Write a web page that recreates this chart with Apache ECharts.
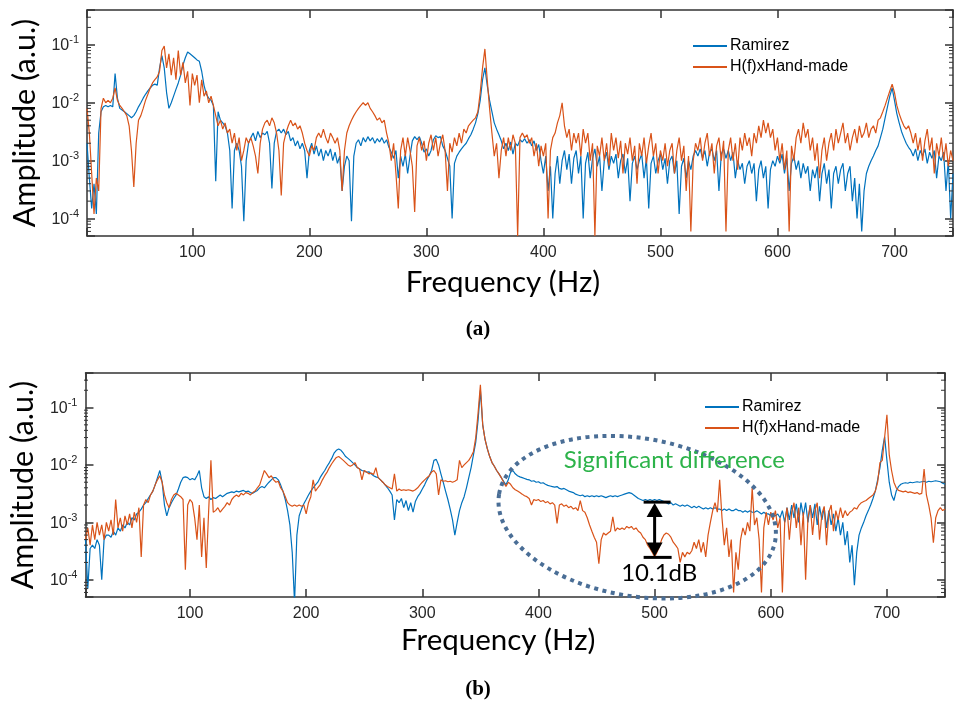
<!DOCTYPE html>
<html><head><meta charset="utf-8">
<script src="https://cdn.jsdelivr.net/npm/echarts@6/dist/echarts.min.js"></script>
<style>html,body{margin:0;padding:0;background:#fff}#c{width:957px;height:707px}</style>
</head><body><div id="c"></div>
<script>
// Sampling grid of the spectra (Hz)
const FREQ_START = 10;
const FREQ_STEP = 2;
const X_MIN = 10, X_MAX = 750;
const Y_MIN = 5e-5, Y_MAX = 0.4;

// (a) top panel
const TOP_RAMIREZ = [
2e-3,5e-4,1.5e-4,4e-4,1.2e-4,3e-3,7e-3,8.5e-3,9e-3,8.5e-3,
9e-3,8.5e-3,3.2e-2,1.2e-2,8e-3,7.5e-3,7e-3,6.5e-3,6e-3,5.5e-3,
6e-3,7e-3,8.5e-3,1e-2,1.2e-2,1.4e-2,1.6e-2,1.8e-2,2e-2,2.1e-2,
2e-2,4e-2,6.5e-2,4e-2,1.5e-2,8e-3,1e-2,1.3e-2,1.7e-2,2.2e-2,
3e-2,4.5e-2,6e-2,7.5e-2,7e-2,6.5e-2,6e-2,5.5e-2,5.2e-2,3.5e-2,
2e-2,1.4e-2,1.2e-2,1.1e-2,9e-3,4.4e-4,7e-3,5e-3,4.5e-3,4e-3,
3e-3,1.5e-3,1.5e-4,1.5e-3,2e-3,1.5e-3,8e-4,9e-5,1e-3,2e-3,
2.5e-3,3e-3,2.2e-3,3.2e-3,2.5e-3,3e-3,2.8e-3,3.2e-3,2e-3,3.3e-4,
2e-3,3.2e-3,3.5e-3,3e-3,3.5e-3,2.8e-3,3.2e-3,2.2e-3,2.5e-3,1.8e-3,
2.2e-3,1.6e-3,2e-3,1.5e-3,5e-4,1.5e-3,2e-3,1.3e-3,1.8e-3,1.2e-3,
1.6e-3,1e-3,1.5e-3,1.2e-3,1.6e-3,1e-3,1.4e-3,9e-4,1.2e-3,3e-4,
8e-4,1.2e-3,1e-3,9e-5,1.2e-3,2e-3,2.3e-3,1.8e-3,2.5e-3,2.1e-3,
2.6e-3,2.2e-3,2.5e-3,2e-3,2.4e-3,2.1e-3,2.5e-3,2e-3,2.3e-3,1.7e-3,
1.4e-3,1.1e-3,1.5e-3,5e-4,1.2e-3,8e-4,1.3e-3,6e-4,1.2e-3,2.2e-3,
2.6e-3,2.3e-3,2.6e-3,2e-3,1.4e-3,1.6e-3,1.2e-3,1.5e-3,2.3e-3,2.7e-3,
2.5e-3,2.6e-3,1.8e-3,1.5e-3,1.1e-3,8e-4,1e-4,9e-4,1.2e-3,1.4e-3,
1.6e-3,1.8e-3,2e-3,2.4e-3,2.8e-3,3.5e-3,4.5e-3,6.5e-3,1.1e-2,2.5e-2,
4e-2,2e-2,1.1e-2,7e-3,4.5e-3,3.5e-3,2.8e-3,2.2e-3,1.6e-3,2e-3,
1.5e-3,2.1e-3,1.3e-3,2e-3,1.8e-3,2.3e-3,2.1e-3,2.4e-3,2e-3,2.3e-3,
1.8e-3,2.2e-3,1.5e-3,1.9e-3,1e-3,6e-4,1.2e-3,3e-4,8e-4,1e-4,
6e-4,1.2e-3,4e-4,1e-3,1.5e-3,7e-4,1.3e-3,4e-4,1.1e-3,1.5e-3,
6e-4,1.2e-3,1e-4,9e-4,1.4e-3,5e-4,1.1e-3,1.6e-3,8e-4,1.2e-3,
3e-4,1e-3,1.4e-3,7e-4,1.2e-3,9e-4,1.3e-3,5e-4,1e-3,1.3e-3,
6e-4,1.1e-3,2e-4,9e-4,1.2e-3,7e-4,1e-3,1.3e-3,5e-4,1.1e-3,
1.5e-4,9e-4,1.2e-3,6e-4,1e-3,1.3e-3,7e-4,1.1e-3,4e-4,1e-3,
1.2e-3,6e-4,1e-3,1.2e-4,8e-4,1.1e-3,5e-4,1e-3,7e-4,1.2e-3,
1.5e-3,1.2e-3,1.6e-3,1.1e-3,1.5e-3,8e-4,1.4e-3,1.6e-3,1e-3,1.5e-3,
3e-4,1.3e-3,1.6e-3,1.1e-3,1.5e-3,1e-3,1.4e-3,5e-4,1e-3,7e-4,
9e-4,4e-4,8e-4,1e-3,6e-4,9e-4,2e-4,7e-4,1e-3,5e-4,
8e-4,1.5e-4,7e-4,1e-3,8e-4,1.2e-3,9e-4,1.3e-3,6e-4,1.1e-3,
3e-4,9e-4,1.2e-3,7e-4,1e-3,5e-4,9e-4,6e-4,8e-4,3e-4,
7e-4,5e-4,8e-4,2e-4,6e-4,9e-4,4e-4,7e-4,1.5e-4,6e-4,
8e-4,4e-4,7e-4,9e-4,3e-4,6e-4,8e-4,2e-4,5e-4,1e-4,
4e-4,6e-5,3e-4,6e-4,8e-4,1e-3,1.2e-3,1.5e-3,1.8e-3,2.5e-3,
3.5e-3,5.5e-3,8.5e-3,1.3e-2,1.8e-2,1.1e-2,6.5e-3,4.5e-3,3.2e-3,2.5e-3,
2e-3,1.7e-3,1.5e-3,1.2e-3,1.6e-3,1e-3,1.5e-3,1.2e-3,1.6e-3,9e-4,
1.4e-3,1.1e-3,1.5e-3,5e-4,1.2e-3,1e-3,1.4e-3,3e-4,1e-3,1e-4,
6e-4];

const TOP_HANDMADE = [
8e-3,3e-3,6e-4,1.2e-4,5e-4,3e-4,8e-3,1.2e-2,1e-2,1.1e-2,
1e-2,1.2e-2,1.8e-2,1.1e-2,9e-3,8e-3,7e-3,6e-3,4e-3,1.5e-3,
3.5e-4,2e-3,5e-3,6e-3,8e-3,1.1e-2,1.4e-2,1.8e-2,2.2e-2,2.5e-2,
2.8e-2,3.5e-2,8e-2,9.5e-2,4e-2,7e-2,3e-2,6e-2,2.5e-2,8e-2,
3e-2,5e-2,2.2e-2,3.5e-2,9e-3,3.2e-2,2e-2,3e-2,1e-2,2.5e-2,
1.3e-2,1.6e-2,1e-2,1.3e-2,9e-3,6e-3,4e-3,5e-3,3.5e-3,4.5e-3,
3e-3,3.5e-3,2e-3,3e-3,1.5e-3,2.5e-3,1e-3,1.5e-3,2.5e-3,2e-3,
2.5e-3,1.8e-3,1.2e-3,6e-4,2e-3,3.5e-3,4.5e-3,5e-3,4e-3,5.5e-3,
4.5e-3,3e-3,1.5e-3,2.5e-4,2e-3,3e-3,4e-3,5e-3,4e-3,4.5e-3,
3.5e-3,4e-3,3e-3,2e-3,1.5e-3,1.2e-3,1.8e-3,1.5e-3,2.5e-3,3e-3,
2.5e-3,3.5e-3,2.5e-3,2e-3,3e-3,2.5e-3,2e-3,2.5e-3,1.5e-3,3e-4,
1.5e-3,3e-3,4e-3,5e-3,6e-3,7e-3,8e-3,9e-3,1e-2,9e-3,
1e-2,8e-3,7e-3,6e-3,5e-3,5.5e-3,4.5e-3,5e-3,3e-3,2e-3,
1e-3,2e-3,6e-4,1.5e-4,1.5e-3,2.5e-3,1.2e-3,2.5e-3,1.5e-3,8e-4,
1.3e-4,1.8e-3,2.5e-3,1.5e-3,2.2e-3,1e-3,2e-3,2.8e-3,1.5e-3,2.5e-3,
1.2e-3,2e-3,2.8e-3,1.5e-3,3e-4,2e-3,1.4e-3,2.5e-3,1.8e-3,3e-3,
2e-3,3.5e-3,3e-3,4e-3,4.5e-3,5e-3,5.5e-3,7e-3,1.5e-2,4e-2,
8.5e-2,2.5e-2,8e-3,3e-3,1.2e-3,2e-3,5e-4,1.5e-3,2.5e-3,1.2e-3,
2.5e-3,1.5e-3,2.8e-3,2e-3,5e-5,2.5e-3,3e-3,2.5e-3,2.8e-3,2e-3,
2.5e-3,1.2e-3,2e-3,8e-4,1.8e-3,1.2e-3,2e-3,1e-4,1.5e-3,2.5e-3,
3e-3,4.5e-3,6e-3,1e-2,4e-3,2.5e-3,3.5e-3,1.5e-3,3e-3,2e-3,
3e-3,1.2e-3,3.5e-3,2e-3,3e-3,1e-3,2e-3,5e-5,1.8e-3,1.2e-3,
2.5e-3,1e-3,2e-3,8e-4,3e-3,1.5e-3,2.5e-3,1.1e-3,2.2e-3,6e-4,
2e-3,1.3e-3,2.5e-3,1e-3,1.8e-3,4e-4,2e-3,1.2e-3,2.5e-3,9e-4,
1.8e-3,3e-3,1.2e-3,2e-3,6e-4,1.5e-3,1e-3,2e-3,8e-4,1.5e-3,
2e-3,6e-4,1.5e-3,2.5e-3,1e-3,1.8e-3,3e-4,1.2e-3,6e-5,1e-3,
2e-3,1.5e-3,2.5e-3,1e-3,2e-3,3e-3,1.2e-3,2e-3,6e-4,1.8e-3,
2.5e-3,1e-3,2.2e-3,6e-5,1.5e-3,2.5e-3,1e-3,2e-3,7e-4,2.5e-3,
1.5e-3,3e-3,1.8e-3,2.5e-3,1.2e-3,3e-3,2e-3,4e-3,2.5e-3,5e-3,
3e-3,4.5e-3,2.5e-3,3.5e-3,1.5e-3,2.5e-3,1e-3,2e-3,7e-4,1.5e-3,
6e-5,1.8e-3,1e-3,2.5e-3,3.5e-3,2e-3,4.5e-3,2.5e-3,3.5e-3,1.5e-3,
2.5e-3,1e-3,2e-3,5e-4,1.5e-3,2.5e-3,1e-3,2e-3,3e-3,1.5e-3,
3.5e-3,2e-3,3e-3,4.5e-3,2e-3,3e-3,1.5e-3,2.5e-3,3.5e-3,2e-3,
4e-3,2.5e-3,3e-3,4.5e-3,2.5e-3,3.5e-3,4e-3,3e-3,5e-3,5.5e-3,
7e-3,9e-3,1.2e-2,1.6e-2,2.1e-2,1.5e-2,9e-3,6.5e-3,5e-3,4e-3,
3.5e-3,4e-3,3e-3,2e-3,3e-3,1.5e-3,2.5e-3,1e-3,2.2e-3,3.5e-3,
1.5e-3,2.5e-3,6e-4,2e-3,1.2e-3,2.5e-3,1e-3,2e-3,8e-4,1.5e-3,
1e-3];

// (b) bottom panel
const BOT_RAMIREZ = [
5e-4,7e-5,3.5e-4,4e-4,3.5e-4,5e-4,4e-4,1e-4,5e-4,6e-4,
6e-4,5.5e-4,7e-4,6e-4,8e-4,7e-4,9e-4,8e-4,1e-3,9e-4,
1.2e-3,1.1e-3,1.4e-3,1.5e-3,1.7e-3,2e-3,2.2e-3,2.6e-3,3e-3,3.5e-3,
4.5e-3,6e-3,8e-3,5e-3,2e-3,1.3e-3,1.8e-3,2.2e-3,2.6e-3,3e-3,
3.8e-3,5e-3,6e-3,6.2e-3,6e-3,5.5e-3,5.8e-3,5.5e-3,6.5e-3,8e-3,
4e-3,2.8e-3,2.6e-3,2.8e-3,2.5e-3,2.7e-3,2.6e-3,2.8e-3,3e-3,2.8e-3,
3e-3,3.2e-3,3.3e-3,3.4e-3,3.3e-3,3.5e-3,3.4e-3,3.5e-3,3.6e-3,3.4e-3,
3.5e-3,3.3e-3,3.2e-3,3.4e-3,3.6e-3,4e-3,4.2e-3,4e-3,4.5e-3,5e-3,
5.5e-3,6e-3,6e-3,5.5e-3,4.5e-3,3.5e-3,2.5e-3,1.6e-3,9e-4,3e-4,
4e-5,6e-4,1.3e-3,1.7e-3,2.1e-3,2.5e-3,3e-3,3.5e-3,4e-3,4.5e-3,
5e-3,6e-3,7e-3,8e-3,9.5e-3,1.1e-2,1.3e-2,1.6e-2,1.8e-2,1.9e-2,
1.8e-2,1.6e-2,1.4e-2,1.3e-2,1.2e-2,1.1e-2,1e-2,9e-3,8.5e-3,8e-3,
7.8e-3,7.5e-3,7.6e-3,7e-3,6.5e-3,6.2e-3,6e-3,5.5e-3,5e-3,4.5e-3,
4e-3,3.5e-3,3e-3,1.1e-3,2.5e-3,2.2e-3,2.6e-3,1.8e-3,2.4e-3,1.6e-3,
2.2e-3,1.5e-3,2.3e-3,2.8e-3,3.2e-3,3.8e-3,4.5e-3,5.5e-3,6.5e-3,8e-3,
1.2e-2,1.25e-2,1e-2,7e-3,5e-3,3.5e-3,2.5e-3,1.7e-3,1.1e-3,6e-4,
1e-3,1.6e-3,2.2e-3,2.8e-3,4e-3,6e-3,9e-3,1.5e-2,2.5e-2,6e-2,
2e-1,5e-2,2.8e-2,1.9e-2,1.4e-2,1.1e-2,9.5e-3,8e-3,7e-3,6e-3,
5.2e-3,4.5e-3,5.5e-3,7.5e-3,8e-3,7e-3,6.5e-3,6.2e-3,6e-3,5.8e-3,
5.6e-3,5.5e-3,5.2e-3,5.3e-3,5e-3,5.1e-3,4.8e-3,4.9e-3,4.6e-3,4.4e-3,
4.3e-3,4.2e-3,4.1e-3,4.2e-3,3.9e-3,3.8e-3,3.9e-3,3.7e-3,3.5e-3,3.4e-3,
3.3e-3,3.1e-3,3e-3,2.9e-3,3e-3,2.8e-3,2.9e-3,2.8e-3,2.9e-3,2.8e-3,
2.9e-3,2.8e-3,2.9e-3,2.8e-3,2.7e-3,2.8e-3,2.9e-3,2.8e-3,2.9e-3,2.8e-3,
2.9e-3,3e-3,3.1e-3,3.2e-3,3.3e-3,3.2e-3,3e-3,2.8e-3,2.6e-3,2.5e-3,
2.4e-3,2.5e-3,2.4e-3,2.5e-3,2.4e-3,2.5e-3,2.4e-3,2.5e-3,2.4e-3,2.3e-3,
2.2e-3,2.1e-3,2.2e-3,2e-3,2.1e-3,2e-3,1.9e-3,2e-3,1.9e-3,2e-3,
1.9e-3,1.8e-3,1.9e-3,1.8e-3,1.9e-3,1.8e-3,1.7e-3,1.8e-3,1.7e-3,1.8e-3,
1.7e-3,1.8e-3,1.7e-3,1.7e-3,1.6e-3,1.7e-3,1.6e-3,1.7e-3,1.6e-3,1.6e-3,
1.7e-3,1.6e-3,1.6e-3,1.5e-3,1.6e-3,1.5e-3,1.6e-3,1.5e-3,1.5e-3,1.6e-3,
1.5e-3,1.4e-3,1.5e-3,1.4e-3,1.4e-3,1.3e-3,1.4e-3,1.3e-3,1.4e-3,1.2e-3,
1.6e-3,1e-3,1.8e-3,1.1e-3,2e-3,1.2e-3,2.1e-3,1e-3,2.2e-3,1.3e-3,
2.2e-3,1e-3,2e-3,1.2e-3,2.1e-3,9e-4,1.9e-3,1.1e-3,1.8e-3,8e-4,
1.6e-3,9e-4,1.4e-3,7e-4,1.2e-3,6e-4,1e-3,4e-4,7e-4,2e-4,
4e-4,8e-5,3e-4,6e-4,8e-4,1e-3,1.3e-3,1.6e-3,2e-3,2.6e-3,
3.5e-3,5.5e-3,9e-3,1.8e-2,3.1e-2,1.2e-2,5e-3,3e-3,2.4e-3,3.5e-3,
4.2e-3,4.6e-3,4.8e-3,4.9e-3,4.8e-3,5e-3,4.9e-3,5e-3,5.1e-3,5e-3,
5.1e-3,5.2e-3,5e-3,5.2e-3,5.1e-3,5.2e-3,5.3e-3,5.2e-3,5.1e-3,4.8e-3,
4.6e-3];

const BOT_HANDMADE = [
5e-4,8e-4,4e-4,9e-4,5e-4,1e-3,6e-4,9e-4,5e-4,1e-3,
7e-4,1.1e-3,6e-4,2.5e-3,8e-4,1.2e-3,7e-4,1.3e-3,9e-4,1.4e-3,
8e-4,1.5e-3,1e-3,1.8e-3,2.5e-4,2e-3,2.5e-3,2.2e-3,3e-3,3.5e-3,
4.5e-3,5.5e-3,6.5e-3,5e-3,3e-3,2.2e-3,1.8e-3,2.5e-3,3e-3,3.2e-3,
3e-3,2.8e-3,2.5e-3,1.5e-4,2e-3,2.5e-3,2.2e-3,1.2e-3,5e-4,2e-3,
2.5e-4,1.2e-3,1.6e-4,1.5e-3,1.2e-2,1.5e-3,1.6e-3,1.8e-3,1.5e-3,1.7e-3,
1.9e-3,2.2e-3,2e-3,2.5e-3,2.8e-3,3e-3,2.8e-3,3.2e-3,3e-3,3.3e-3,
3.2e-3,3e-3,3.3e-3,3.5e-3,4e-3,4.5e-3,6e-3,8e-3,7e-3,6e-3,
6.5e-3,5.5e-3,5e-3,5.2e-3,4e-3,3.5e-3,2.8e-3,2.2e-3,2e-3,1.9e-3,
2e-3,1.9e-3,2e-3,1.9e-3,2e-3,1.4e-3,2.2e-3,2.8e-3,5.5e-3,3.5e-3,
4e-3,4.5e-3,5.5e-3,6.5e-3,7.5e-3,9e-3,1.05e-2,1.2e-2,1.35e-2,1.4e-2,
1.3e-2,1.2e-2,1.1e-2,1e-2,9.5e-3,1e-2,1.1e-2,9e-3,8.5e-3,5.5e-3,
8e-3,7.5e-3,7e-3,7.2e-3,6.8e-3,9e-3,6e-3,5.5e-3,5e-3,4.5e-3,
4.2e-3,4e-3,3.8e-3,7e-3,3.5e-3,3.8e-3,3.6e-3,3.7e-3,3.6e-3,3.7e-3,
3.6e-3,3.5e-3,3.7e-3,4e-3,4.5e-3,5e-3,5.5e-3,6e-3,6.5e-3,7.5e-3,
8e-3,7e-3,3e-3,5.5e-3,5.2e-3,5.3e-3,5.1e-3,5.2e-3,5e-3,5.2e-3,
5.5e-3,1.2e-2,9e-3,1e-2,1.1e-2,1.2e-2,1.4e-2,1.7e-2,3e-2,8e-2,
2.5e-1,5e-2,2.8e-2,1.9e-2,1.4e-2,1.1e-2,9.5e-3,8e-3,7e-3,6e-3,
5e-3,4.2e-3,5e-3,4.6e-3,4e-3,3.7e-3,3.5e-3,3.3e-3,3.1e-3,2.9e-3,
2.8e-3,2.6e-3,2e-3,2.5e-3,2.4e-3,2.5e-3,2.3e-3,2.4e-3,2.2e-3,2.3e-3,
2.1e-3,2.2e-3,2e-3,9.6e-4,2e-3,2.1e-3,1.9e-3,2e-3,1.8e-3,1.9e-3,
1.7e-3,1.8e-3,1.6e-3,2.4e-3,1.6e-3,1.5e-3,1.2e-3,9e-4,7e-4,5.5e-4,
4.5e-4,1.9e-4,5e-4,6.5e-4,6e-4,6.5e-4,7e-4,1.25e-3,7e-4,8e-4,
7.5e-4,8e-4,7.5e-4,8.5e-4,8e-4,8.5e-4,7.5e-4,8e-4,7e-4,6.5e-4,
5.5e-4,5e-4,4e-4,3.5e-4,3e-4,2.5e-4,3e-4,3.7e-4,5e-4,6e-4,
6.5e-4,6.2e-4,5.5e-4,4.5e-4,4e-4,3.5e-4,2e-4,3e-4,2.5e-4,3e-4,
2.8e-4,3.2e-4,4.5e-4,3.5e-4,5e-4,3e-4,4.5e-4,2.5e-4,6e-4,1e-3,
1.6e-3,2.2e-3,1.5e-3,5.5e-3,1.2e-3,4e-4,8e-4,2.5e-4,5e-4,6e-5,
3e-4,1.5e-4,5e-4,8e-4,6e-4,1e-3,7e-4,4e-3,9e-4,1.2e-3,
5e-4,6e-5,8e-4,1.5e-3,9e-4,1.5e-3,1.1e-3,1.6e-3,8e-4,1.2e-3,
6e-5,1e-3,1.8e-3,5e-4,1.5e-3,2.2e-3,8e-4,1.8e-3,4e-4,1.5e-3,
1e-4,1.2e-3,2e-3,6e-4,1.6e-3,2.2e-3,5e-4,1.4e-3,1.9e-3,4e-4,
1.5e-3,2e-3,7e-4,1.6e-3,1.1e-3,1.8e-3,1.2e-3,1.6e-3,1.3e-3,1.5e-3,
1.6e-3,1.8e-3,1.7e-3,2e-3,2.2e-3,2.3e-3,2.4e-3,2.6e-3,2.8e-3,3e-3,
3.5e-3,5e-3,1.1e-2,1.2e-2,3e-2,7.5e-2,1.5e-2,8e-3,5e-3,4e-3,
3.6e-3,3.5e-3,3.4e-3,3.5e-3,3.3e-3,3.4e-3,3.3e-3,3.2e-3,3.3e-3,3.1e-3,
3.2e-3,8.5e-3,3e-3,2e-3,1.2e-3,4.4e-4,1.2e-3,1.6e-3,1.8e-3,1.6e-3,
1.7e-3];

const SERIES_NAMES = ['Ramirez', 'H(f)xHand-made'];
const PANEL_LABELS = ['(a)', '(b)'];
const ANNOT_TEXT = 'Significant difference';
const ANNOT_DB = '10.1dB';

const BLUE = '#0072BD', ORANGE = '#D95319', AX = '#333333', TICKC = '#262626';
const F_TICK = '"Liberation Sans", Arial, sans-serif';
const F_TITLE = 'Lato, "Open Sans", sans-serif';

function pairs(arr) { return arr.map((v, i) => [FREQ_START + i * FREQ_STEP, v]); }
function logLabel(v) {
  const e = Math.log10(v), r = Math.round(e);
  if (Math.abs(e - r) > 1e-6) return '';
  return '{b|10}{s|' + r + '}';
}

const GRIDS = [
  { left: 87, top: 10, width: 866, height: 226 },
  { left: 84, top: 373, width: 861, height: 224 }
];

function xAx(g, pos, main, gap) {
  return {
    type: 'value', gridIndex: g, position: pos, min: X_MIN, max: X_MAX,
    minInterval: 100, maxInterval: 100,
    axisLine: { show: true, onZero: false, lineStyle: { color: AX, width: 1.5 } },
    axisTick: { show: true, inside: true, length: 8, lineStyle: { color: AX, width: 1.5 } },
    axisLabel: { show: main, margin: 9, fontSize: 16, fontFamily: F_TICK, color: TICKC,
      formatter: v => (v % 100 === 0 ? String(v) : '') },
    splitLine: { show: false },
    name: main ? 'Frequency (Hz)' : '', nameLocation: 'middle', nameGap: gap,
    nameTextStyle: { fontFamily: F_TITLE, fontSize: 29.5, color: '#000', padding: [0, 34, 0, 0] }
  };
}
function yAx(g, pos, main) {
  return {
    type: 'log', logBase: 10, gridIndex: g, position: pos, min: Y_MIN, max: Y_MAX,
    axisLine: { show: true, onZero: false, lineStyle: { color: AX, width: 1.5 } },
    axisTick: { show: true, inside: true, length: 8, lineStyle: { color: AX, width: 1.5 } },
    axisLabel: { show: main, margin: 8, formatter: logLabel,
      rich: {
        b: { fontSize: 16, fontFamily: F_TICK, color: TICKC, verticalAlign: 'bottom', lineHeight: 18 },
        s: { fontSize: 11, fontFamily: F_TICK, color: TICKC, verticalAlign: 'bottom', lineHeight: 12, padding: [0, 0, 8, 0] }
      } },
    splitLine: { show: false },
    name: main ? 'Amplitude (a.u.)' : '', nameLocation: 'middle', nameGap: 44, nameRotate: 90,
    nameTextStyle: { fontFamily: F_TITLE, fontSize: 30.5, color: '#000' }
  };
}
function lineSeries(name, data, g, color) {
  return {
    type: 'line', name, data: pairs(data), xAxisIndex: g * 2, yAxisIndex: g * 2,
    showSymbol: false, symbol: 'none', animation: false,
    lineStyle: { width: 1.2, color }, itemStyle: { color }
  };
}
function legendCfg(left, top) {
  return {
    data: SERIES_NAMES, orient: 'vertical', left, top, itemWidth: 34, itemHeight: 2,
    icon: 'rect', itemGap: 5, selectedMode: false,
    textStyle: { fontSize: 16, fontFamily: F_TICK, color: '#000', padding: [0, 0, 0, -2] }
  };
}

const chart = echarts.init(document.getElementById('c'), null, { renderer: 'canvas' });
chart.setOption({
  animation: false,
  backgroundColor: '#fff',
  grid: GRIDS,
  xAxis: [xAx(0, 'bottom', true, 31), xAx(0, 'top', false, 0), xAx(1, 'bottom', true, 28), xAx(1, 'top', false, 0)],
  yAxis: [yAx(0, 'left', true), yAx(0, 'right', false), yAx(1, 'left', true), yAx(1, 'right', false)],
  legend: [legendCfg(688, 33), legendCfg(700, 394)],
  series: [
    lineSeries(SERIES_NAMES[0], TOP_RAMIREZ, 0, BLUE),
    lineSeries(SERIES_NAMES[1], TOP_HANDMADE, 0, ORANGE),
    lineSeries(SERIES_NAMES[0], BOT_RAMIREZ, 1, BLUE),
    lineSeries(SERIES_NAMES[1], BOT_HANDMADE, 1, ORANGE)
  ]
});

// Decorations: log minor ticks, panel labels, annotation in (b)
const els = [];
GRIDS.forEach((g, gi) => {
  const xl = g.left, xr = g.left + g.width;
  for (let e = -5; e <= -1; e++) {
    for (let m = 2; m <= 9; m++) {
      const v = m * Math.pow(10, e);
      if (v <= Y_MIN || v >= Y_MAX) continue;
      const y = chart.convertToPixel({ yAxisIndex: gi * 2 }, v);
      els.push({ type: 'line', shape: { x1: xl, y1: y, x2: xl + 4, y2: y }, style: { stroke: AX, lineWidth: 1 }, z: 50 });
      els.push({ type: 'line', shape: { x1: xr - 4, y1: y, x2: xr, y2: y }, style: { stroke: AX, lineWidth: 1 }, z: 50 });
    }
  }
});
els.push({ type: 'text', x: 478, y: 330, style: { text: PANEL_LABELS[0], font: 'bold 21px "Liberation Serif", "Times New Roman", serif', fill: '#000', textAlign: 'center', textVerticalAlign: 'middle' } });
els.push({ type: 'text', x: 478, y: 690, style: { text: PANEL_LABELS[1], font: 'bold 21px "Liberation Serif", "Times New Roman", serif', fill: '#000', textAlign: 'center', textVerticalAlign: 'middle' } });

const P = (f, a) => chart.convertToPixel({ gridIndex: 1 }, [f, a]);
const ec = P(485, 1.23e-3);
els.push({ type: 'ellipse', x: ec[0], y: ec[1], rotation: -0.166, shape: { cx: 0, cy: 0, rx: 140, ry: 79 },
  style: { fill: 'none', stroke: '#4A6E96', lineWidth: 4, lineDash: [4, 4.5] }, z: 60 });
const tp = P(517, 1.22e-2);
els.push({ type: 'text', x: tp[0], y: tp[1], style: { text: ANNOT_TEXT, font: '24px Lato, sans-serif', fill: '#2DB34A', textAlign: 'center', textVerticalAlign: 'middle' }, z: 61 });
const at = P(500, 2.25e-3), ab = P(500, 2.45e-4);
const ax = at[0];
els.push({ type: 'line', shape: { x1: ax - 11, y1: at[1], x2: ax + 16, y2: at[1] }, style: { stroke: '#000', lineWidth: 3 }, z: 62 });
els.push({ type: 'line', shape: { x1: ax - 11, y1: ab[1], x2: ax + 17, y2: ab[1] }, style: { stroke: '#000', lineWidth: 3 }, z: 62 });
els.push({ type: 'line', shape: { x1: ax, y1: at[1] + 10, x2: ax, y2: ab[1] - 10 }, style: { stroke: '#000', lineWidth: 3 }, z: 62 });
els.push({ type: 'polygon', shape: { points: [[ax, at[1] + 1], [ax - 8, at[1] + 15], [ax + 8, at[1] + 15]] }, style: { fill: '#000' }, z: 62 });
els.push({ type: 'polygon', shape: { points: [[ax, ab[1] - 1], [ax - 8, ab[1] - 15], [ax + 8, ab[1] - 15]] }, style: { fill: '#000' }, z: 62 });
const dp = P(504, 1.29e-4);
els.push({ type: 'text', x: dp[0], y: dp[1], style: { text: ANNOT_DB, font: '24px Lato, sans-serif', fill: '#000', textAlign: 'center', textVerticalAlign: 'middle' }, z: 62 });
chart.setOption({ graphic: { elements: els } });
</script></body></html>
